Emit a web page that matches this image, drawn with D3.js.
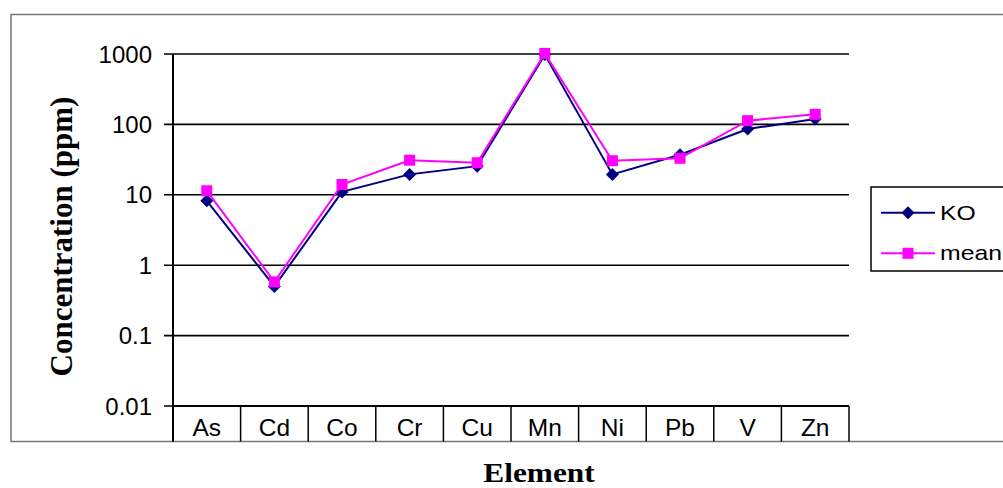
<!DOCTYPE html>
<html><head><meta charset="utf-8">
<script src="https://cdn.jsdelivr.net/npm/d3@7"></script>
<style>body{margin:0;background:#fff}svg{display:block}</style>
</head><body>
<svg id="c" width="1003" height="488"></svg>
<script>
const categories = ["As","Cd","Co","Cr","Cu","Mn","Ni","Pb","V","Zn"];
const koValues   = [8.2, 0.50, 11, 19.5, 25.5, 980, 19.5, 37, 86, 119];
const meanValues = [11.4, 0.58, 14, 31, 28.5, 1020, 30.5, 33, 113, 139];
const yTickValues = [0.01, 0.1, 1, 10, 100, 1000];
const yTickLabels = ["0.01","0.1","1","10","100","1000"];
const seriesNames = ["KO","mean"];

const svg = d3.select("#c");
const L = 173, R = 849, T = 54, B = 406, frameBottom = 441.5;

// outer frame
svg.append("rect").attr("x",11).attr("y",14.5).attr("width",1010).attr("height",frameBottom-14.5)
  .attr("fill","none").attr("stroke","#777").attr("stroke-width",1.5);

const x = d3.scaleBand().domain(categories).range([L,R]).padding(0);
const y = d3.scaleLog().domain([0.01,1000]).range([B,T]);

// gridlines
svg.append("g").selectAll("line").data(yTickValues).join("line")
  .attr("x1",L-9).attr("x2",R).attr("y1",d=>y(d)).attr("y2",d=>y(d))
  .attr("stroke","#000").attr("stroke-width",1.6);

// y axis line
svg.append("line").attr("x1",L).attr("x2",L).attr("y1",T).attr("y2",frameBottom)
  .attr("stroke","#000").attr("stroke-width",2);

// y tick labels
svg.append("g").selectAll("text").data(yTickValues).join("text")
  .attr("x",152).attr("y",d=>y(d)+8.5).attr("text-anchor","end")
  .attr("font-family","'Liberation Sans',Arial,sans-serif").attr("font-size",24)
  .text((d,i)=>yTickLabels[i]);

// category separators
const bounds = categories.map(c=>x(c)).concat([R]);
svg.append("g").selectAll("line").data(bounds).join("line")
  .attr("x1",d=>d).attr("x2",d=>d).attr("y1",B).attr("y2",frameBottom)
  .attr("stroke","#000").attr("stroke-width",1.5);
svg.append("line").attr("x1",L).attr("x2",R).attr("y1",B).attr("y2",B).attr("stroke","#000").attr("stroke-width",2);

// category labels
svg.append("g").selectAll("text").data(categories).join("text")
  .attr("x",d=>x(d)+x.bandwidth()/2).attr("y",436)
  .attr("text-anchor","middle")
  .attr("font-family","'Liberation Sans',Arial,sans-serif").attr("font-size",24.5)
  .text(d=>d);

// lines
const line = d3.line().x((d,i)=>x(categories[i])+x.bandwidth()/2).y(d=>y(d));
const colors = ["#000080","#FF00FF"];
const series = [koValues, meanValues];

series.forEach((vals,si)=>{
  svg.append("path").datum(vals).attr("d",line).attr("fill","none")
    .attr("stroke",colors[si]).attr("stroke-width",2);
  const g = svg.append("g");
  vals.forEach((v,i)=>{
    const cx = x(categories[i])+x.bandwidth()/2, cy = y(v);
    if(si===0){
      g.append("path").attr("d",`M${cx},${cy-6.5}L${cx+6.5},${cy}L${cx},${cy+6.5}L${cx-6.5},${cy}Z`)
        .attr("fill",colors[si]);
    } else {
      g.append("rect").attr("x",cx-5.5).attr("y",cy-5.5).attr("width",11).attr("height",11)
        .attr("fill",colors[si]);
    }
  });
});

// axis titles
svg.append("text").attr("transform","translate(72,236.5) rotate(-90)")
  .attr("text-anchor","middle").attr("font-family","'Liberation Serif','Times New Roman',serif")
  .attr("font-weight","bold").attr("font-size",31).text("Concentration (ppm)");
svg.append("text").attr("transform","translate(539,481.5) scale(1.12,1)").attr("text-anchor","middle")
  .attr("font-family","'Liberation Serif','Times New Roman',serif")
  .attr("font-weight","bold").attr("font-size",28).text("Element");

// legend
const lg = svg.append("g");
lg.append("rect").attr("x",871).attr("y",187).attr("width",150).attr("height",84)
  .attr("fill","#fff").attr("stroke","#000").attr("stroke-width",1.5);
const ly = [212.7, 253.3];
seriesNames.forEach((n,i)=>{
  lg.append("line").attr("x1",881).attr("x2",935).attr("y1",ly[i]).attr("y2",ly[i])
    .attr("stroke",colors[i]).attr("stroke-width",2);
  const cx=908, cy=ly[i];
  if(i===0) lg.append("path").attr("d",`M${cx},${cy-6.5}L${cx+6.5},${cy}L${cx},${cy+6.5}L${cx-6.5},${cy}Z`).attr("fill",colors[i]);
  else lg.append("rect").attr("x",cx-5.5).attr("y",cy-5.5).attr("width",11).attr("height",11).attr("fill",colors[i]);
  lg.append("text").attr("transform",`translate(940,${ly[i]+7}) scale(1.24,1)`)
    .attr("font-family","'Liberation Sans',Arial,sans-serif")
    .attr("font-size",20).text(n);
});
</script>
</body></html>
